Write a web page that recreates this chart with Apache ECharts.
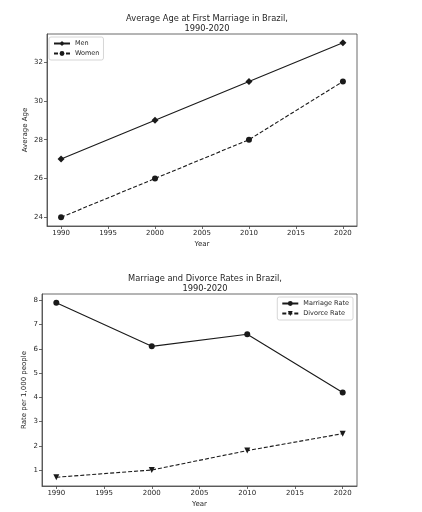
<!DOCTYPE html>
<html><head><meta charset="utf-8">
<script src="https://cdn.jsdelivr.net/npm/echarts@6/dist/echarts.min.js"></script>
<style>html,body{margin:0;padding:0;background:#fff}#c{width:422px;height:512px}</style>
</head><body><div id="c"></div>
<script>
const years = [1990, 2000, 2010, 2020];
const menAge = [27, 29, 31, 33];
const womenAge = [24, 26, 28, 31];
const marriageRate = [7.9, 6.1, 6.6, 4.2];
const divorceRate = [0.7, 1.0, 1.8, 2.5];
const xTicks = [1990, 1995, 2000, 2005, 2010, 2015, 2020];
const ageTicks = [24, 26, 28, 30, 32];
const rateTicks = [1, 2, 3, 4, 5, 6, 7, 8];

const FONT = 'DejaVu Sans';
const TXT = '#262626';
const LINE = '#1a1a1a';
const chart = echarts.init(document.getElementById('c'), null, {renderer: 'canvas'});
const pair = (xs, ys) => xs.map((x, i) => [x, ys[i]]);
function xAxis(gi) {
  return {
    type: 'value', gridIndex: gi, min: 1988.5, max: 2021.5,
    name: 'Year', nameLocation: 'middle', nameGap: 15, nameMoveOverlap: false,
    nameTextStyle: {fontFamily: FONT, fontSize: 7, color: TXT},
    axisLine: {show: true, onZero: false, lineStyle: {color: '#444', width: 0.8}},
    axisTick: {show: true, length: 3, lineStyle: {color: '#444', width: 0.8}, customValues: xTicks},
    axisLabel: {fontFamily: FONT, fontSize: 7, color: TXT, margin: 4, customValues: xTicks,
                formatter: v => String(v)},
    splitLine: {show: false}
  };
}
function yAxis(gi, min, max, ticks, name, gap) {
  return {
    type: 'value', gridIndex: gi, min: min, max: max,
    name: name, nameLocation: 'middle', nameGap: gap, nameRotate: 90, nameMoveOverlap: false,
    nameTextStyle: {fontFamily: FONT, fontSize: 7, color: TXT},
    axisLine: {show: true, onZero: false, lineStyle: {color: '#444', width: 0.8}},
    axisTick: {show: true, length: 3, lineStyle: {color: '#444', width: 0.8}, customValues: ticks},
    axisLabel: {fontFamily: FONT, fontSize: 7, color: TXT, margin: 4, customValues: ticks,
                formatter: v => String(v)},
    splitLine: {show: false}
  };
}
function series(name, xi, data, sym, size, dashed) {
  return {
    name: name, type: 'line', xAxisIndex: xi, yAxisIndex: xi, data: data,
    symbol: sym, symbolSize: size, showSymbol: true, animation: false,
    lineStyle: {color: LINE, width: 1.1, type: dashed ? [4, 2] : 'solid'},
    itemStyle: {color: LINE, borderWidth: 0}
  };
}
chart.setOption({
  animation: false,
  title: [
    {text: 'Average Age at First Marriage in Brazil,\n1990-2020', left: 202, top: 9, textAlign: 'center',
     textStyle: {fontFamily: FONT, fontSize: 8.3, fontWeight: 'normal', color: TXT, lineHeight: 10}},
    {text: 'Marriage and Divorce Rates in Brazil,\n1990-2020', left: 200, top: 269, textAlign: 'center',
     textStyle: {fontFamily: FONT, fontSize: 8.3, fontWeight: 'normal', color: TXT, lineHeight: 10}}
  ],
  grid: [
    {left: 47, top: 34, width: 310, height: 192, show: true, borderColor: '#444', borderWidth: 0.8, backgroundColor: 'transparent'},
    {left: 42, top: 294, width: 315, height: 192, show: true, borderColor: '#444', borderWidth: 0.8, backgroundColor: 'transparent'}
  ],
  xAxis: [xAxis(0), xAxis(1)],
  yAxis: [
    yAxis(0, 23.55, 33.45, ageTicks, 'Average Age', 18),
    yAxis(1, 0.34, 8.26, rateTicks, 'Rate per 1,000 people', 14)
  ],
  legend: [
    {data: ['Men', 'Women'], orient: 'vertical', left: 49, top: 37, itemWidth: 16, itemHeight: 6, itemGap: 3,
     padding: [3, 4], borderColor: '#ccc', borderWidth: 0.8, borderRadius: 2, backgroundColor: '#fff',
     textStyle: {fontFamily: FONT, fontSize: 6.5, color: TXT}},
    {data: ['Marriage Rate', 'Divorce Rate'], orient: 'vertical', right: 69, top: 297, itemWidth: 16, itemHeight: 6, itemGap: 3,
     padding: [3, 4], borderColor: '#ccc', borderWidth: 0.8, borderRadius: 2, backgroundColor: '#fff',
     textStyle: {fontFamily: FONT, fontSize: 6.5, color: TXT}}
  ],
  series: [
    series('Men', 0, pair(years, menAge), 'diamond', 7, false),
    series('Women', 0, pair(years, womenAge), 'circle', 6, true),
    series('Marriage Rate', 1, pair(years, marriageRate), 'circle', 6, false),
    series('Divorce Rate', 1, pair(years, divorceRate), 'path://M0,0 L10,0 L5,10 Z', 6, true)
  ]
});
</script></body></html>
